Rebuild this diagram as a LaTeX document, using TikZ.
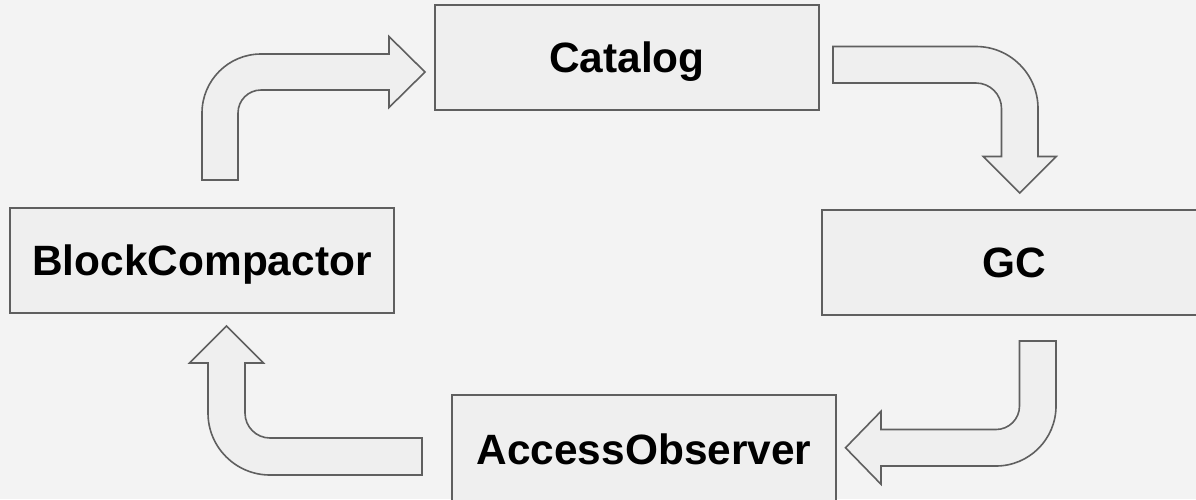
\documentclass[tikz,border=0pt]{standalone}
\usepackage{fontspec}
\setmainfont{Liberation Sans}
\definecolor{pagebg}{HTML}{F3F3F3}
\definecolor{boxfill}{HTML}{EFEFEF}
\definecolor{edge}{HTML}{5F5F5F}
\tikzset{
  stage/.style={draw=edge, fill=boxfill, line width=1.6pt, rectangle,
    minimum width=384pt, minimum height=105pt, inner sep=0pt,
    text height=30.4pt, text depth=0pt,
    font=\fontsize{42.4}{50}\selectfont\bfseries, text=black},
  bentarrow/.style={draw=edge, fill=boxfill, line width=1.6pt, line join=miter}
}
\begin{document}
\begin{tikzpicture}[x=1pt, y=-1pt]
  \useasboundingbox (0,0) rectangle (1196,499);
  \fill[pagebg] (0,0) rectangle (1196,499);
  \clip (0,0) rectangle (1196,499);

  % the four stages of the cycle
  \node[stage] (catalog) at (627,57.5)   {Catalog};
  \node[stage] (gc)      at (1014,262.5) {GC};
  \node[stage, minimum height=108pt] (access) at (644,449) {AccessObserver};
  \node[stage] (blocks)  at (202,260.5)  {BlockCompactor};

  % BlockCompactor -> Catalog
  \draw[bentarrow] (202,180) -- (202,113)
    arc[start angle=180, end angle=90, radius=59pt]
    -- (389,54) -- (389,36.5) -- (425,72) -- (389,107.5) -- (389,90) -- (261,90)
    arc[start angle=90, end angle=180, radius=23pt]
    -- (238,180) -- cycle;

  % Catalog -> GC
  \draw[bentarrow] (833,46.5) -- (976,46.5)
    arc[start angle=90, end angle=0, radius=62pt]
    -- (1038,156.5) -- (1056.25,156.5) -- (1019.75,193) -- (983.25,156.5)
    -- (1001.5,156.5) -- (1001.5,108.5)
    arc[start angle=0, end angle=90, radius=25.5pt]
    -- (833,83) -- cycle;

  % GC -> AccessObserver
  \draw[bentarrow] (1019.5,341) -- (1056,341) -- (1056,406)
    arc[start angle=0, end angle=-90, radius=60pt]
    -- (881,466) -- (881,484.25) -- (845.5,447.75) -- (881,411.25)
    -- (881,429.5) -- (996,429.5)
    arc[start angle=-90, end angle=0, radius=23.5pt]
    -- cycle;

  % AccessObserver -> BlockCompactor
  \draw[bentarrow] (422,438) -- (270,438)
    arc[start angle=-90, end angle=-180, radius=25pt]
    -- (245,363) -- (263.5,363) -- (226.5,326) -- (189.5,363) -- (208,363)
    -- (208,413)
    arc[start angle=180, end angle=270, radius=62pt]
    -- (422,475) -- cycle;
\end{tikzpicture}
\end{document}
